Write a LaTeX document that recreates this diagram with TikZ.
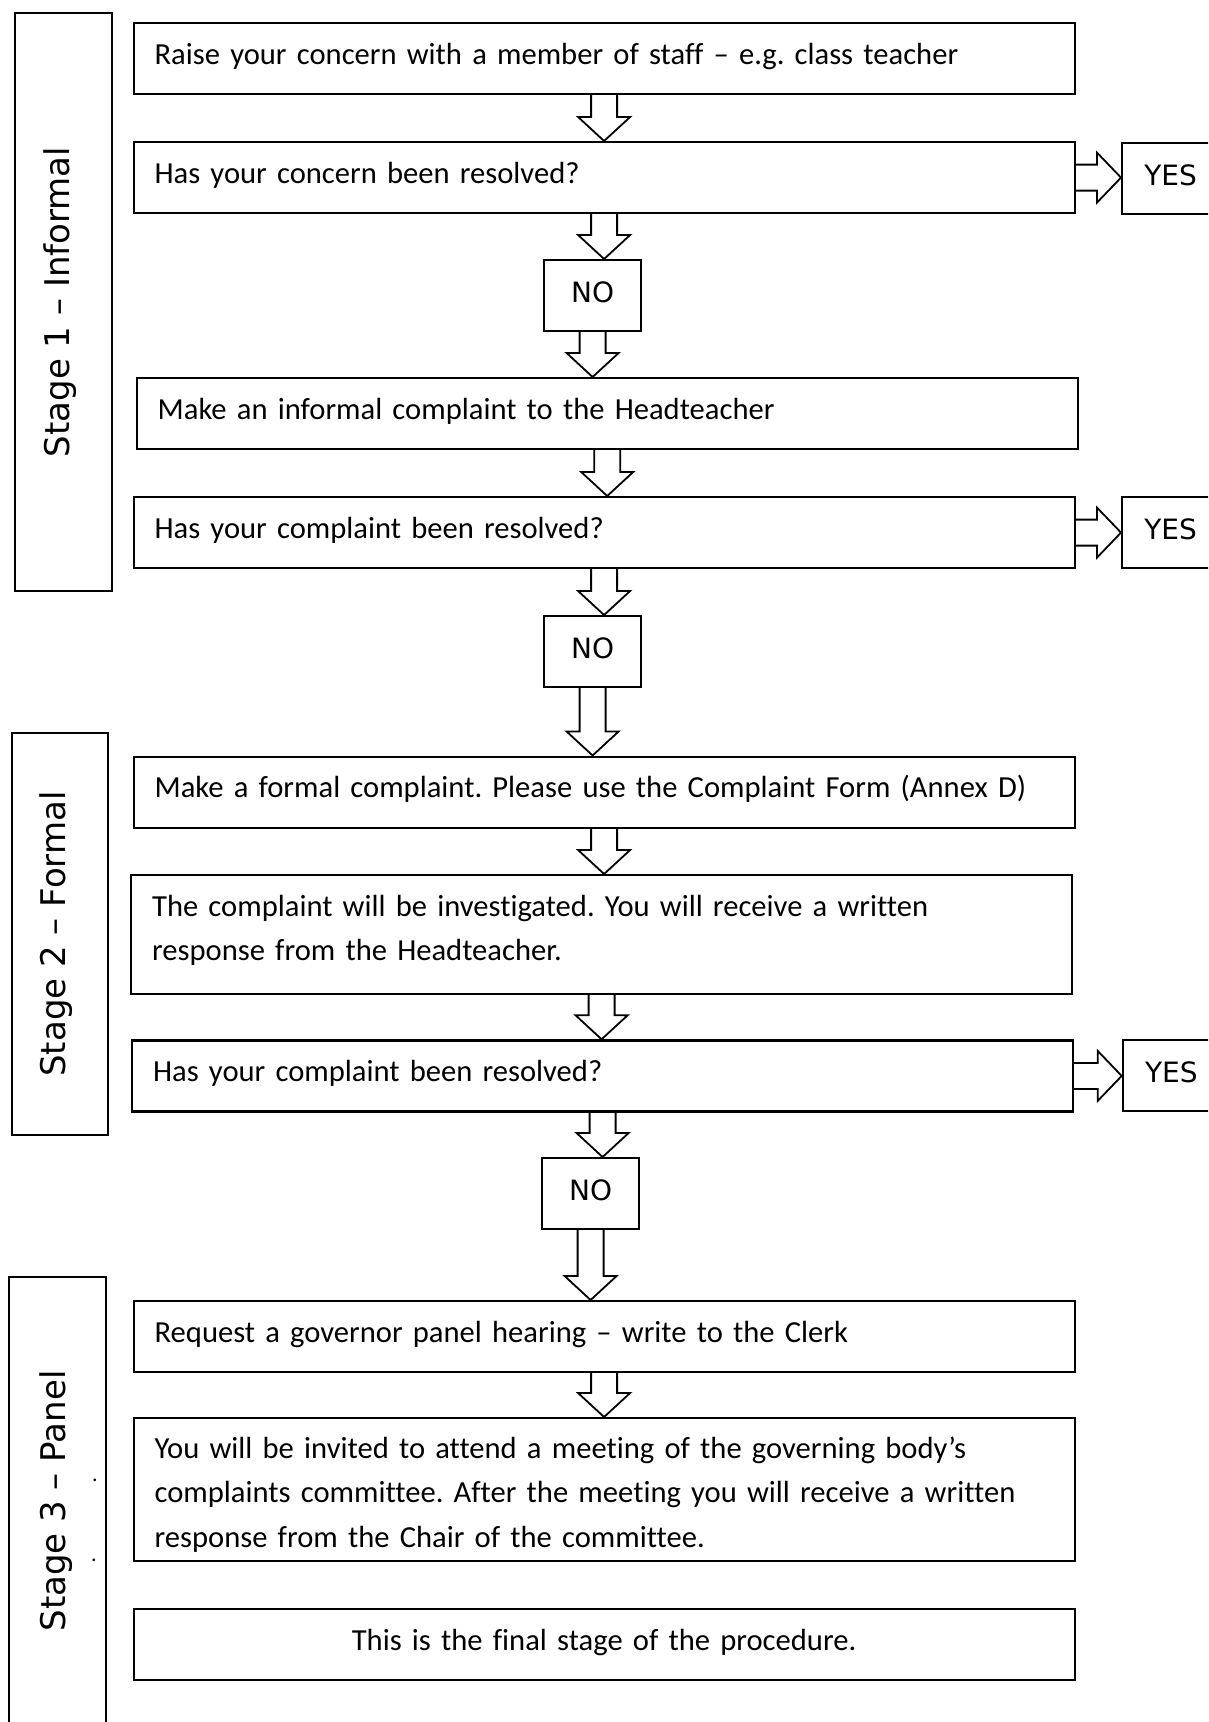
\documentclass[tikz,border=0pt]{standalone}
\usepackage{fontspec}
\newfontfamily\bodyfont[Ligatures={NoCommon}]{Carlito}
\newfontfamily\labelfont{DejaVu Sans}
\frenchspacing
\hyphenpenalty=10000
\exhyphenpenalty=10000

% block arrow pointing down, from the bottom of #1 to the top of #2
\newcommand{\stepdown}[2]{%
  \coordinate (tail) at (#1);
  \coordinate (tip) at (#1 |- #2);
  \draw[blockarrow] ([xshift=-13pt]tail) -- ([xshift=-13pt,yshift=24pt]tip)
    -- ([xshift=-26pt,yshift=24pt]tip) -- (tip) -- ([xshift=26pt,yshift=24pt]tip)
    -- ([xshift=13pt,yshift=24pt]tip) -- ([xshift=13pt]tail);}
% block arrow pointing right, from the side of #1 to the side of #2
\newcommand{\stepright}[2]{%
  \coordinate (tail) at (#1);
  \coordinate (tip) at (#2 |- #1);
  \draw[blockarrow] ([yshift=13pt]tail) -- ([xshift=-24pt,yshift=13pt]tip)
    -- ([xshift=-24pt,yshift=25pt]tip) -- (tip) -- ([xshift=-24pt,yshift=-25pt]tip)
    -- ([xshift=-24pt,yshift=-13pt]tip) -- ([yshift=-13pt]tail);}

\begin{document}
\begin{tikzpicture}[x=1pt, y=-1pt,
    stepbox/.style={draw, line width=2.2pt, anchor=north west, inner xsep=21pt, inner ysep=0pt,
      text width=899pt, align=left, text height=41pt, text depth=30pt,
      font=\bodyfont\fontsize{30.6}{44.5}\selectfont},
    answer/.style={draw, line width=2.2pt, anchor=north west, inner sep=0pt,
      text width=97pt, align=center, text height=42pt, text depth=29pt,
      font=\labelfont\fontsize{28}{34}\selectfont},
    stage/.style={draw, line width=2pt, rotate=90, inner sep=0pt,
      text height=22pt, text depth=10pt, font=\labelfont\fontsize{34}{40}\selectfont},
    blockarrow/.style={line width=1.8pt, line join=miter}]
    \useasboundingbox (0,0) rectangle (1208,1722);
    \clip (0,0) rectangle (1208,1722);

    % Stage frames
    \node[stage, minimum width=578pt, minimum height=97pt] (s1) at (63.5,302) {Stage 1 – Informal};
    \node[stage, minimum width=402pt, minimum height=96.5pt] (s2) at (59.8,934) {Stage 2 – Formal};
    \node[stage, minimum width=449pt, minimum height=96.3pt, text height=24pt, text depth=8pt] (s3) at (57.4,1501) {Stage 3 – Panel};
    \node[font=\bodyfont\fontsize{22}{22}\selectfont, inner sep=0pt] (dot1) at (95,1480) {.};
    \node[font=\bodyfont\fontsize{22}{22}\selectfont, inner sep=0pt] (dot2) at (94,1560) {.};

    % Draw nodes
    \node[stepbox] (1) at (132.5,22) {Raise your concern with a member of staff – e.g. class teacher};
    \node[stepbox] (2) at (132.5,141) {Has your concern been resolved?};
    \node[answer] (yes1) at (1121,142) {YES};
    \node[answer] (no1) at (543,259) {NO};
    \node[stepbox] (3) at (135.6,377) {Make an informal complaint to the Headteacher};
    \node[stepbox] (4) at (132.5,496) {Has your complaint been resolved?};
    \node[answer] (yes2) at (1121,496) {YES};
    \node[answer] (no2) at (543,615) {NO};
    \node[stepbox] (5) at (132.5,755.5) {Make a formal complaint. Please use the Complaint Form (Annex D)};
    \node[stepbox, text depth=77.6pt] (6) at (130,874) {The complaint will be investigated. You will receive a written\\response from the Headteacher.};
    \node[stepbox] (7) at (131,1039.3) {Has your complaint been resolved?};
    \node[answer] (yes3) at (1121.7,1039) {YES};
    \node[answer] (no3) at (541,1157) {NO};
    \node[stepbox] (8) at (132.5,1300) {Request a governor panel hearing – write to the Clerk};
    \node[stepbox, text height=40pt, text depth=103pt] (9) at (132.5,1417) {You will be invited to attend a meeting of the governing body’s\\complaints committee. After the meeting you will receive a written\\response from the Chair of the committee.};
    \node[stepbox, align=center] (10) at (132.5,1608) {This is the final stage of the procedure.};

    % Draw connections
    \stepdown{1.south}{2.north}
    \stepright{2.east}{yes1.west}
    \stepdown{2.south}{no1.north}
    \stepdown{no1.south}{3.north}
    \stepdown{3.south}{4.north}
    \stepright{4.east}{yes2.west}
    \stepdown{4.south}{no2.north}
    \stepdown{no2.south}{5.north}
    \stepdown{5.south}{6.north}
    \stepdown{6.south}{7.north}
    \stepright{7.east}{yes3.west}
    \stepdown{7.south}{no3.north}
    \stepdown{no3.south}{8.north}
    \stepdown{8.south}{9.north}
\end{tikzpicture}
\end{document}
